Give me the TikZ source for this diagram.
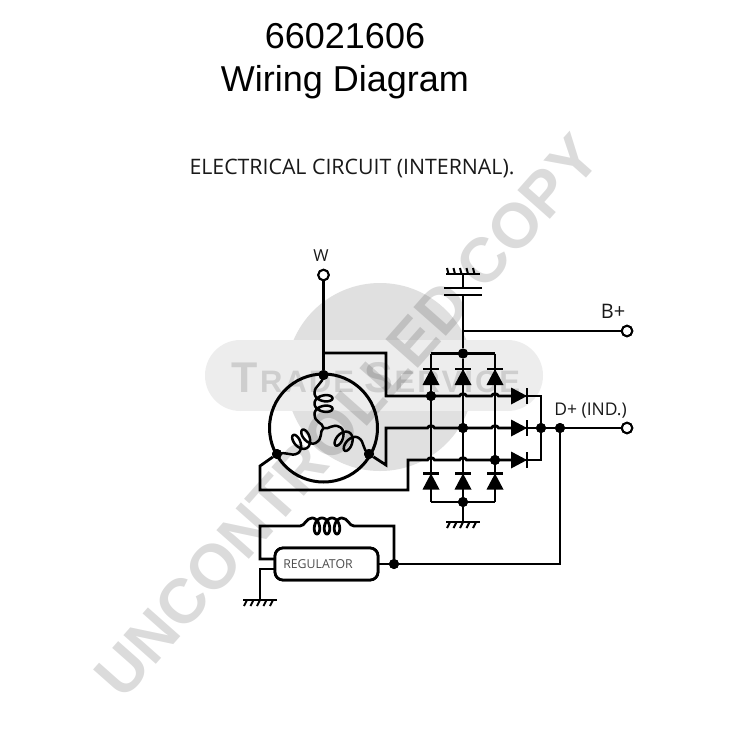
\documentclass[tikz,border=0pt]{standalone}
\usepackage{fontspec}
\setmainfont{Liberation Sans}
\newfontfamily\labelfont{Open Sans}
\usetikzlibrary{calc}
\newcommand{\fsz}[1]{\fontsize{#1}{#1}\selectfont}
\newcommand{\hopat}[1]{-- ($(#1)+(-3.5,0)$) .. controls ($(#1)+(-2.5,-3)$) and ($(#1)+(2.5,-3)$) .. ($(#1)+(3.5,0)$)}
\tikzset{
  wire/.style={line width=2.8pt,black,line join=miter},
  jdot/.style={circle,fill=black,draw=none,minimum size=10pt,inner sep=0pt},
  term/.style={circle,fill=white,draw=black,line width=2pt,minimum size=10.5pt,inner sep=0pt},
  lab/.style={inner sep=0pt,text=black!90,font=\labelfont},
  regbox/.style={draw=black,fill=white,line width=2.8pt,rounded corners=8pt,minimum width=103pt,minimum height=32pt,inner sep=0pt},
  wm/.style={inner sep=0pt,text=black,text opacity=0.14},
  dv/.pic={\fill (0,-8) -- (8.5,8) -- (-8.5,8) -- cycle;
           \draw[line width=2.4pt] (-8,-8) -- (8,-8);},
  dh/.pic={\fill (8,0) -- (-8,8.5) -- (-8,-8.5) -- cycle;
           \draw[line width=2.4pt] (8,-8) -- (8,8);},
  gnddown/.pic={\draw[line width=2.6pt] (-17,0) -- (17,0);
     \foreach \t in {-16,-9.5,...,12} \draw[line width=2pt] (\t+3,0) -- (\t,6);},
  gndup/.pic={\draw[line width=2.6pt] (-17,0) -- (17,0);
     \foreach \t in {-16,-9.5,...,15} \draw[line width=2pt] (\t+1.5,0) -- (\t,-6);},
  statorcoil/.pic={\draw[wire,line width=2.5pt] (0,0) .. controls (-1,-6) and (-9,-5) .. (-9,-14)
     -- plot[domain=180:900,samples=90] ({9*cos(\x)},{-14-10.5*(\x-180)/360+5.5*sin(\x)})
     .. controls (-9,-43) and (-1,-43) .. (0,-53);}
}
\begin{document}
\begin{tikzpicture}[x=1pt,y=-1pt]
\useasboundingbox (0,0) rectangle (750,750);
\fill[white] (0,0) rectangle (750,750);
% watermark
\fill[black!12] (380,377) circle [radius=94];
\fill[black!7] (240,340) rectangle (508,411);
\fill[black!7] (240.5,375.5) circle [radius=35.5];
\fill[black!7] (507.5,375.5) circle [radius=35.5];
\node[wm,text opacity=0.13,anchor=base,font=\bfseries] (wmb) at (376,392) {\fsz{43}T\fsz{31}\kern2pt R\kern2pt A\kern2pt D\kern2pt E\kern10pt\fsz{43}S\fsz{31}\kern2pt E\kern2pt R\kern2pt V\kern2pt I\kern2pt C\kern2pt E};
\node[wm,rotate=48.5,font=\bfseries\fsz{63}] (wma) at (347,416) {UNCONTROLLED COPY};
% titles
\node[inner sep=0pt,anchor=base] (t1) at (345,48) {\fsz{36}66021606};
\node[inner sep=0pt,anchor=base] (t2) at (345,91) {\fsz{36}Wiring Diagram};
\node[lab,anchor=base] (t3) at (352,174) {\fsz{21.3}ELECTRICAL CIRCUIT (INTERNAL).};
% named points
\coordinate (sc) at (323.5,428);
\node[term] (W) at (323.5,275) {};
\node[term] (Bp) at (627,331) {};
\node[term] (Dp) at (627,428) {};
\node[jdot] (sa) at (323.5,375) {};
\node[jdot] (sb) at (277,454) {};
\node[jdot] (sd) at (369,454) {};
\coordinate (wtap) at (323.5,353);
\coordinate (c1t) at (431,353.5); \node[jdot] (c2t) at (463,353.5) {}; \coordinate (c3t) at (495,353.5);
\coordinate (c1b) at (431,502); \node[jdot] (c2b) at (463,502) {}; \coordinate (c3b) at (495,502);
\node[jdot] (r1) at (431,396) {};
\coordinate (r12) at (463,396); \coordinate (r13) at (495,396);
\coordinate (r21) at (431,428); \node[jdot] (r2) at (463,428) {}; \coordinate (r23) at (495,428);
\coordinate (r31) at (431,460); \coordinate (r32) at (463,460); \node[jdot] (r3) at (495,460) {};
\coordinate (d1) at (519,396); \coordinate (d2) at (519,428); \coordinate (d3) at (519,460);
\coordinate (o1) at (541,396); \node[jdot] (o2) at (541,428) {}; \coordinate (o3) at (541,460);
\node[jdot] (dj) at (560,428) {};
\node[regbox] (reg) at (326.5,564) {};
\node[jdot] (rj) at (394,564) {};
\coordinate (g1) at (463,274);
\coordinate (g2) at (463,522);
\coordinate (g3) at (260,600);
\coordinate (capa) at (463,288);
\coordinate (capb) at (463,295);
% wiring
\draw[wire,line width=3pt] (sc) circle [radius=54];
\draw[wire] (W) -- (sa);
\draw[wire] (wtap) -- ++(62.5,0) -- ++(0,43) \hopat{r1}\hopat{r12}\hopat{r13} -- (d1);
\draw[wire] (sd) -- (386,465) -- (386,428) \hopat{r21}\hopat{r2}\hopat{r23} -- (d2);
\draw[wire] (sb) -- (260,466) -- (260,490) -- (408,490) -- (408,460) \hopat{r31}\hopat{r32} -- (d3);
\draw[wire] (c1t) -- (c3t);
\draw[wire] (c1b) -- (c3b);
\draw[wire] (c1t) -- (c1b);
\draw[wire] (c2t) -- (c2b);
\draw[wire] (c3t) -- (c3b);
\draw[wire] (c2b) -- (g2);
\draw[wire] (d1) -- (o1) -- (o3) -- (d3);
\draw[wire] (d2) -- (o2) -- (dj) -- (Dp);
\draw[wire] (g1) -- (capa);
\draw[wire] (capb) -- (c2t);
\draw[wire,line width=2.8pt] (444,288) -- (482,288);
\draw[wire,line width=2.8pt] (444,295) -- (482,295);
\draw[wire] (463,331) -- (Bp);
\draw[wire] (dj) |- (rj);
\draw[wire] (reg.east) -- (rj);
\draw[wire] (rj) -- (394,526) -- (354,526)
  .. controls (349,526) and (348,518) .. (342,518)
  -- plot[domain=1080:0,samples=120] ({312+10*\x/360+5*sin(\x)},{526-8*cos(\x)})
  .. controls (306,518) and (305,526) .. (300,526) -- (260,526) -- (260,559) -- (275,559);
\draw[wire] (275,569) -- (260,569) -- (g3);
% redraw on top of wires
\node[term] at (W) {}; \node[term] at (Bp) {}; \node[term] at (Dp) {};
\node[regbox] at (reg) {};
\node[lab,text=black!70] (regt) at (318,564.5) {\fsz{12.3}REGULATOR};
\path (sc) pic {statorcoil} (sc) pic[rotate=120] {statorcoil} (sc) pic[rotate=-120] {statorcoil};
\foreach \p in {sa,sb,sd,c2t,c2b,r1,r2,r3,o2,dj,rj} \fill (\p) circle [radius=5];
% diodes
\foreach \c in {431,463,495} { \path (\c,377) pic {dv}; \path (\c,481.5) pic {dv}; }
\foreach \d in {d1,d2,d3} \path (\d) pic {dh};
% grounds
\path (g1) pic {gndup} (g2) pic {gnddown} (g3) pic {gnddown};
% labels
\node[lab,anchor=base] (Wl) at (321,261) {\fsz{16.5}W};
\node[lab,anchor=base] (Bl) at (613,318) {\fsz{20}B+};
\node[lab,anchor=base east] (Dl) at (627,415) {\fsz{17.5}D+ (IND.)};
\end{tikzpicture}
\end{document}
